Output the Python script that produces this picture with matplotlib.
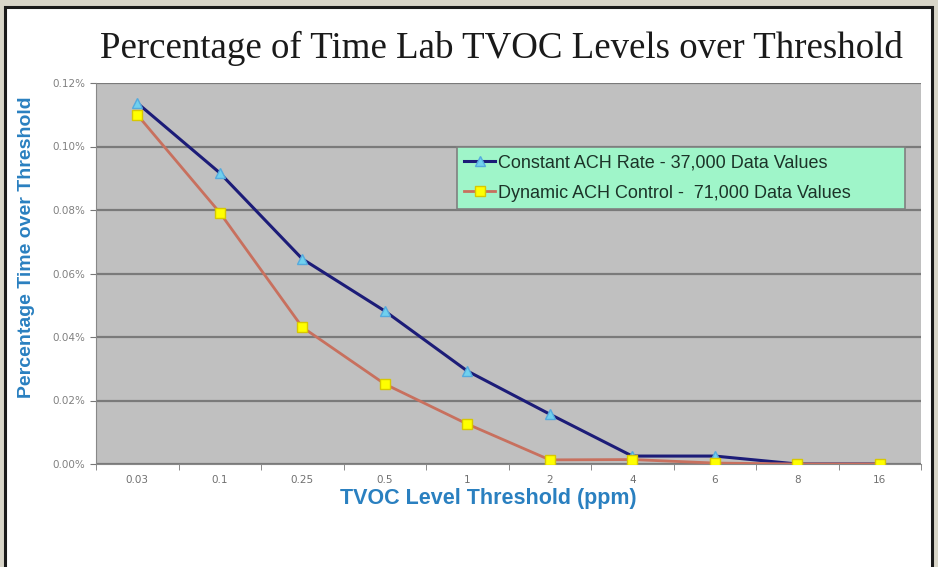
import matplotlib.pyplot as plt
from matplotlib.patches import Rectangle
from matplotlib.ticker import FixedLocator, FuncFormatter

# Данные (проценты)
thresholds = ["0.03", "0.1", "0.25", "0.5", "1", "2", "4", "6", "8", "16"]
constant_ach = [0.1137, 0.0917, 0.0646, 0.0482, 0.0293, 0.0157, 0.0025, 0.0025, 0.0, 0.0]
dynamic_ach = [0.1100, 0.0792, 0.0431, 0.0252, 0.0126, 0.0013, 0.0014, 0.0003, 0.0, 0.0]

constant_label = "Constant ACH Rate - 37,000 Data Values"
dynamic_label = "Dynamic ACH Control -  71,000 Data Values"

TITLE = "Percentage of Time Lab TVOC Levels over Threshold"
AXIS_BLUE = "#2a80c0"

fig = plt.figure(figsize=(9.38, 5.67), dpi=100)
fig.patch.set_facecolor("#d8d5c8")

# Белая панель с чёрной рамкой
panel = Rectangle((5 / 938, -0.02), 927 / 938, 1.02 - 7 / 567,
                  transform=fig.transFigure, facecolor="white",
                  edgecolor="#1a1a1a", linewidth=2.2, zorder=-5)
fig.patches.append(panel)

fig.text(0.535, 0.915, TITLE, ha="center", va="center",
         family="Liberation Serif", fontsize=26.6, color="#1a1a1a")

ax = fig.add_axes([96 / 938, 1 - 464 / 567, 825 / 938, 381 / 567])
ax.set_facecolor("#c0c0c0")

x = list(range(len(thresholds)))

ax.plot(x, constant_ach, color="#1c1c78", linewidth=2.2,
        marker="^", markersize=6.5, markerfacecolor="#70d0ee",
        markeredgecolor="#55aadd", markeredgewidth=1,
        label=constant_label, zorder=3)
ax.plot(x, dynamic_ach, color="#c8705e", linewidth=2,
        marker="s", markersize=6.5, markerfacecolor="#ffff00",
        markeredgecolor="#d8c800", markeredgewidth=1,
        label=dynamic_label, zorder=4)

ax.set_xlim(-0.5, len(thresholds) - 0.5)
ax.set_ylim(0, 0.12)

ax.set_yticks([0, 0.02, 0.04, 0.06, 0.08, 0.10, 0.12])
ax.yaxis.set_major_formatter(FuncFormatter(lambda v, p: f"{v:.2f}%"))
ax.yaxis.grid(True, color="#7a7a7a", linewidth=1.6)
ax.set_axisbelow(True)

# Деления по границам категорий, подписи по центрам
ax.set_xticks(x)
ax.set_xticklabels(thresholds)
ax.xaxis.set_minor_locator(FixedLocator([i - 0.5 for i in range(len(thresholds) + 1)]))
ax.tick_params(axis="x", which="major", length=0, pad=8,
               labelsize=7.5, labelcolor="#707070")
ax.tick_params(axis="x", which="minor", length=4, color="#777777", direction="out")
ax.tick_params(axis="y", length=4, color="#777777", pad=4,
               labelsize=7.5, labelcolor="#808080")

for side in ["top", "right"]:
    ax.spines[side].set_visible(False)
ax.spines["left"].set_color("#888888")
ax.spines["bottom"].set_color("#888888")

ax.set_xlabel("TVOC Level Threshold (ppm)", family="Liberation Sans",
              fontsize=15.5, fontweight="bold", color=AXIS_BLUE, labelpad=1)
ax.xaxis.set_label_coords(0.475, -0.062)
ax.set_ylabel("Percentage Time over Threshold", family="Liberation Sans",
              fontsize=14, fontweight="bold", color=AXIS_BLUE)
ax.yaxis.set_label_coords(-0.074, 0.57)

legend = ax.legend(loc="upper left", bbox_to_anchor=(0.4376, 0.667, 0.543, 0.165),
                   mode="expand", fancybox=False, framealpha=1,
                   facecolor="#9ff5c9", edgecolor="#808080",
                   prop={"family": "Liberation Sans", "size": 13},
                   handlelength=1.7, handletextpad=0.15, borderpad=0.4,
                   labelspacing=0.75, borderaxespad=0)
legend.get_frame().set_linewidth(1.2)
for text in legend.get_texts():
    text.set_color("#1c3328")

fig.savefig("out.png", dpi=100, facecolor=fig.get_facecolor())
